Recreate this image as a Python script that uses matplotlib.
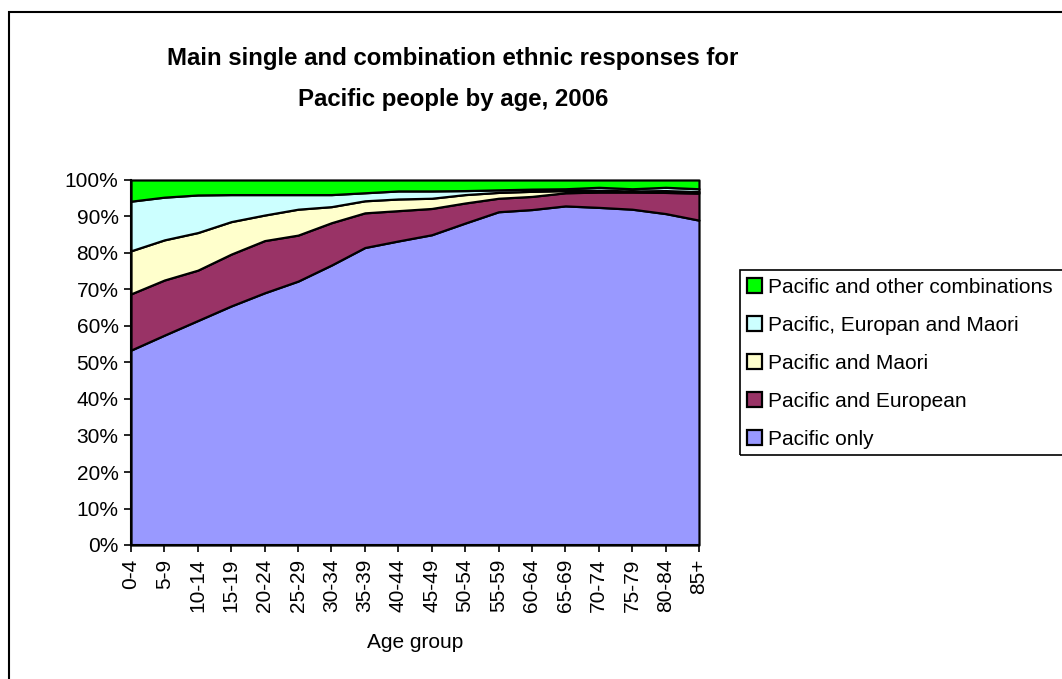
import matplotlib
matplotlib.use("Agg")
import matplotlib.pyplot as plt
from matplotlib.patches import Rectangle
from matplotlib.ticker import FuncFormatter

plt.rcParams['font.family'] = ['Liberation Sans', 'DejaVu Sans']

age_groups = ["0-4", "5-9", "10-14", "15-19", "20-24", "25-29", "30-34", "35-39",
              "40-44", "45-49", "50-54", "55-59", "60-64", "65-69", "70-74",
              "75-79", "80-84", "85+"]

pacific_only = [53.4, 57.5, 61.5, 65.5, 69.1, 72.3, 76.7, 81.5, 83.3, 85.0,
                88.2, 91.3, 91.9, 92.9, 92.5, 92.0, 90.8, 89.0]
pacific_european = [15.4, 15.1, 13.8, 14.2, 14.3, 12.6, 11.6, 9.5, 8.3, 7.2,
                    5.5, 3.7, 3.6, 3.6, 4.2, 4.7, 5.8, 7.4]
pacific_maori = [11.8, 11.0, 10.3, 8.9, 7.0, 7.1, 4.4, 3.3, 3.2, 2.8,
                 2.3, 1.6, 1.4, 0.6, 0.5, 0.3, 0.5, 0.4]
pacific_european_maori = [13.6, 11.7, 10.3, 7.4, 5.6, 4.0, 3.3, 2.2, 2.2, 2.0,
                          1.1, 0.7, 0.6, 0.5, 0.8, 0.6, 0.9, 0.8]
pacific_other = [5.8, 4.7, 4.1, 4.0, 4.0, 4.0, 4.0, 3.5, 3.0, 3.0,
                 2.9, 2.7, 2.5, 2.4, 2.0, 2.4, 2.0, 2.4]

series_labels = ["Pacific only", "Pacific and European", "Pacific and Maori",
                 "Pacific, Europan and Maori", "Pacific and other combinations"]
series_colors = ["#9999FF", "#993366", "#FFFFCC", "#CCFFFF", "#00FF00"]

W, H = 1062, 679
fig = plt.figure(figsize=(W / 100, H / 100), dpi=100)

def fx(px):
    return px / W

def fy(py):
    return 1 - py / H

# outer chart border (runs off the right and bottom edges)
fig.add_artist(Rectangle((fx(9), fy(700)), fx(1100) - fx(9), fy(12) - fy(700),
                         transform=fig.transFigure, fill=False,
                         edgecolor="black", linewidth=1.5, clip_on=False))

ax = fig.add_axes([fx(131), fy(545), fx(699) - fx(131), fy(180) - fy(545)])
x = list(range(len(age_groups)))
polys = ax.stackplot(x, pacific_only, pacific_european, pacific_maori,
                     pacific_european_maori, pacific_other,
                     colors=series_colors, labels=series_labels,
                     edgecolor="black", linewidth=1.6)
for p in polys:
    p.set_clip_on(False)

ax.set_xlim(0, len(age_groups) - 1)
ax.set_ylim(0, 100)
ax.set_xticks(x)
ax.set_xticklabels(age_groups, rotation=90, fontsize=15)
ax.set_yticks(range(0, 101, 10))
ax.yaxis.set_major_formatter(FuncFormatter(lambda v, _: f"{v:.0f}%"))
ax.tick_params(axis="y", labelsize=15, length=5, width=1.2, direction="out", pad=4)
ax.tick_params(axis="x", length=5, width=1.2, direction="out", pad=5)
for side in ("top", "right"):
    ax.spines[side].set_visible(False)
for side in ("left", "bottom"):
    ax.spines[side].set_linewidth(1.5)
ax.set_facecolor("none")
ax.set_xlabel("Age group", fontsize=15, labelpad=15)

fig.text(fx(453), fy(79), "Main single and combination ethnic responses for\nPacific people by age, 2006",
         ha="center", va="center", fontsize=17.3, fontweight="bold", linespacing=2.0)

# legend (frame extends past the right edge)
handles, labels = ax.get_legend_handles_labels()
leg = fig.legend(handles[::-1], labels[::-1], loc="upper left",
                 bbox_to_anchor=(fx(747), fy(278)), frameon=False, fontsize=15,
                 handlelength=0.72, handleheight=0.72, handletextpad=0.3,
                 labelspacing=0.91, borderaxespad=0, borderpad=0)
fig.add_artist(Rectangle((fx(740), fy(455)), fx(1100) - fx(740), fy(270) - fy(455),
                         transform=fig.transFigure, fill=False,
                         edgecolor="black", linewidth=1.2, clip_on=False))

fig.savefig("out.png", dpi=100)
